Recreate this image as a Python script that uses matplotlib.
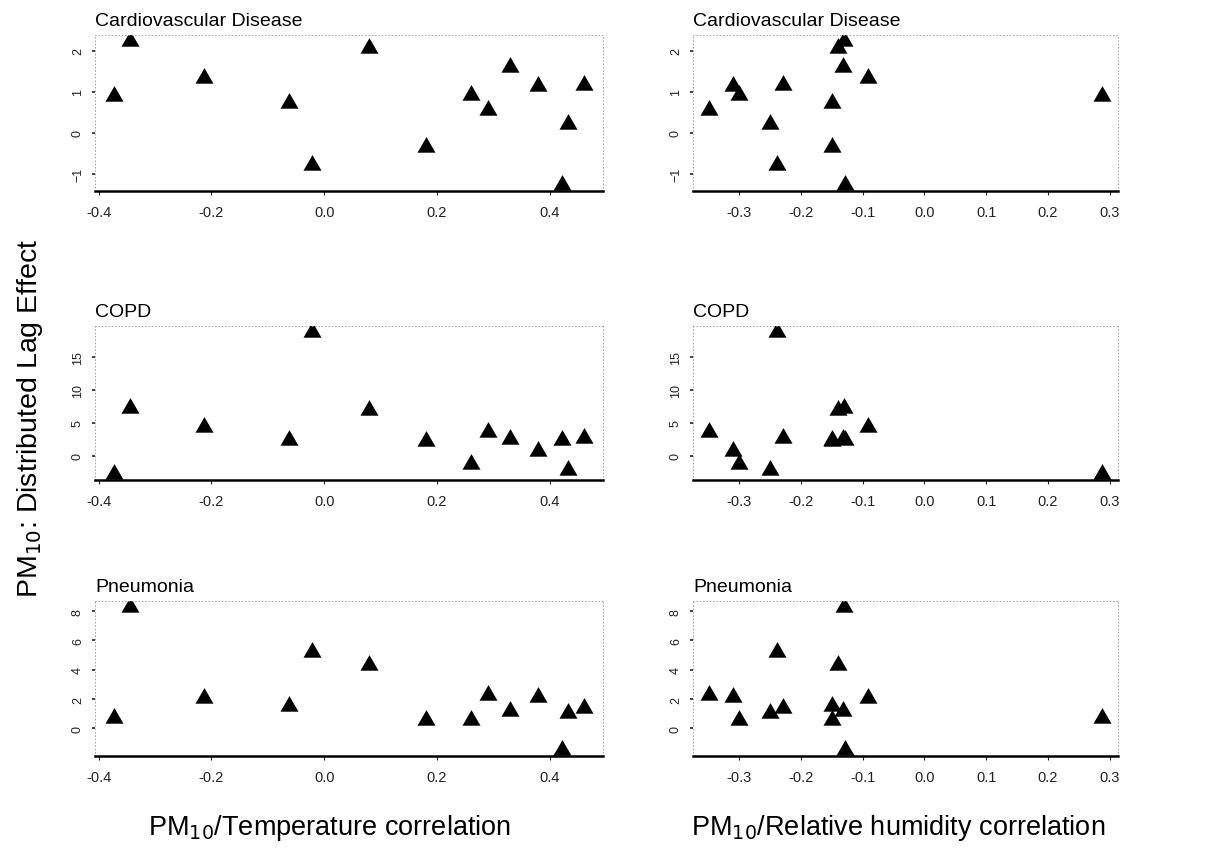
import matplotlib
matplotlib.use('Agg')
import matplotlib.pyplot as plt
from matplotlib.ticker import FormatStrFormatter

plt.rcParams['font.family'] = ['Liberation Sans', 'DejaVu Sans']

# one entry per city, same order in every list
temp_corr = [-0.373, -0.344, -0.213, -0.062, -0.021, 0.080, 0.180, 0.260,
             0.290, 0.330, 0.379, 0.422, 0.432, 0.461]
hum_corr = [0.288, -0.130, -0.092, -0.150, -0.238, -0.140, -0.149, -0.300,
            -0.349, -0.132, -0.309, -0.129, -0.250, -0.228]

cvd_effect = [0.90, 2.24, 1.34, 0.73, -0.78, 2.07, -0.34, 0.93,
              0.56, 1.61, 1.15, -1.27, 0.22, 1.17]
copd_effect = [-2.8, 7.2, 4.3, 2.4, 18.8, 7.0, 2.2, -1.3,
               3.6, 2.6, 0.8, 2.4, -2.2, 2.7]
pneu_effect = [0.67, 8.3, 2.1, 1.5, 5.2, 4.3, 0.6, 0.54,
               2.3, 1.2, 2.15, -1.5, 1.07, 1.4]

titles = ['Cardiovascular Disease', 'COPD', 'Pneumonia']
effects = [cvd_effect, copd_effect, pneu_effect]
yticks = [[-1, 0, 1, 2], [0, 5, 10, 15], [0, 2, 4, 6, 8]]
temp_ticks = [-0.4, -0.2, 0.0, 0.2, 0.4]
hum_ticks = [-0.3, -0.2, -0.1, 0.0, 0.1, 0.2, 0.3]

# triangle with its centroid at the origin (like R's pch=17)
tri = [(-1, -0.5774), (1, -0.5774), (0, 1.1547)]

fig = plt.figure(figsize=(12.2, 8.54), dpi=100)

W, H = 1220, 854
rows_px = [(36, 192), (327, 481), (602, 757)]
cols_px = [(95, 603, temp_corr, temp_ticks), (693, 1118, hum_corr, hum_ticks)]


def pad(vals, frac=0.04):
    lo, hi = min(vals), max(vals)
    d = (hi - lo) * frac
    return lo - d, hi + d


for r, (top, bot) in enumerate(rows_px):
    for (x0, x1, xs, xt) in cols_px:
        ax = fig.add_axes([x0 / W, 1 - bot / H, (x1 - x0) / W, (bot - top) / H])
        ax.plot(xs, effects[r], linestyle='none', marker=tri, ms=15,
                color='black', markeredgewidth=0)
        ax.set_xlim(*pad(xs))
        ax.set_ylim(*pad(effects[r]))
        ax.set_xticks(xt)
        ax.xaxis.set_major_formatter(FormatStrFormatter('%.1f'))
        ax.set_yticks(yticks[r])
        ax.tick_params(axis='x', labelsize=10.5, length=3, width=0.8, pad=7,
                       colors='#222222')
        ax.tick_params(axis='y', labelsize=9, length=2, width=1.2, pad=6,
                       colors='#222222')
        for lab in ax.get_yticklabels():
            lab.set_rotation(90)
            lab.set_va('center')
        for side in ['top', 'right', 'left']:
            ax.spines[side].set_linestyle((0, (1, 3)))
            ax.spines[side].set_linewidth(0.6)
            ax.spines[side].set_color('#999999')
        ax.spines['bottom'].set_linewidth(1.8)
        ax.spines['bottom'].set_color('black')
        ax.text(0.0, 1.04, titles[r], transform=ax.transAxes, ha='left',
                va='bottom', fontsize=14)

fig.text(30 / W, 1 - 418 / H, 'PM$_{10}$: Distributed Lag Effect',
         rotation=90, ha='center', va='center', fontsize=20.5)
fig.text(330 / W, 1 - 828 / H, 'PM$_{10}$/Temperature correlation',
         ha='center', va='center', fontsize=19.5)
fig.text(898 / W, 1 - 828 / H, 'PM$_{10}$/Relative humidity correlation',
         ha='center', va='center', fontsize=19.5)

fig.savefig('out.png', dpi=100)
